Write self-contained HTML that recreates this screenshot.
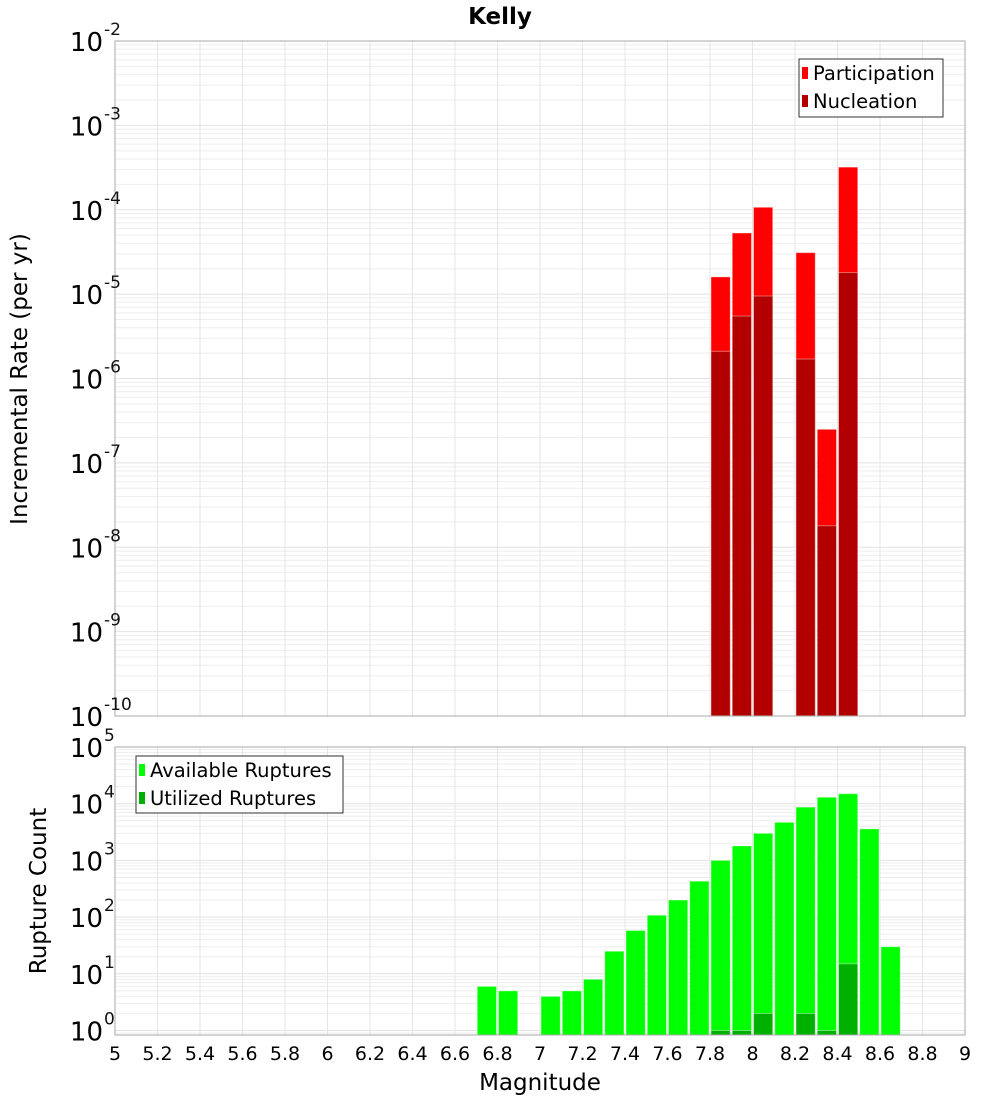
<!DOCTYPE html>
<html><head><meta charset="utf-8"><style>
body{margin:0;background:#fff;font-family:"Liberation Sans","DejaVu Sans",sans-serif}
svg text{font-family:"DejaVu Sans","Liberation Sans",sans-serif}
</style></head><body>
<svg id="c" width="1000" height="1100" xmlns="http://www.w3.org/2000/svg">
<text x="500" y="24" text-anchor="middle" font-size="23" font-weight="bold">Kelly</text>
</svg>
<script>
const binCenters=[7.85,7.95,8.05,8.25,8.35,8.45];
const participation=[1.6e-5,5.3e-5,1.07e-4,3.1e-5,2.5e-7,3.2e-4];
const nucleation=[2.1e-6,5.5e-6,9.5e-6,1.7e-6,1.8e-8,1.8e-5];
const countCenters=[6.75,6.85,7.05,7.15,7.25,7.35,7.45,7.55,7.65,7.75,7.85,7.95,8.05,8.15,8.25,8.35,8.45,8.55,8.65];
const available=[6,5,4,5,8,25,58,108,200,430,1000,1800,3000,4700,8700,13000,15000,3600,30];
const utilCenters=[7.85,7.95,8.05,8.25,8.35,8.45];
const utilized=[1,1,2,2,1,15];
const xTicks=[5,5.2,5.4,5.6,5.8,6,6.2,6.4,6.6,6.8,7,7.2,7.4,7.6,7.8,8,8.2,8.4,8.6,8.8,9];

const NS='http://www.w3.org/2000/svg';
const svg=document.getElementById('c');
function mk(tag,attrs,parent){const e=document.createElementNS(NS,tag);for(const k in attrs)e.setAttribute(k,attrs[k]);(parent||svg).appendChild(e);return e;}
const X0=115,X1=965;
const xs=m=>X0+(m-5)/4*(X1-X0);
const bw=(X1-X0)/40;

function panel(top,bot,decTop,decBot,yAt){
  for(let d=Math.floor(decBot)-1;d<=decTop;d++){
    for(let k=1;k<10;k++){
      const v=d+Math.log10(k);
      if(v<decBot||v>decTop)continue;
      const y=yAt(v);
      const l=mk('line',{x1:X0,x2:X1,y1:y,y2:y,stroke:k==1?'#e2e2e2':'#eeeeee','stroke-width':1});
      
      
    }
  }
  xTicks.forEach(t=>{
    const x=xs(t);
    const l=mk('line',{x1:x,x2:x,y1:top,y2:bot,stroke:'#e6e6e6','stroke-width':1});
    
    
  });
}
function frame(top,bot){
  const r=mk('rect',{x:X0,y:top,width:X1-X0,height:bot-top,fill:'none',stroke:'#aaaaaa','stroke-width':1});
  
  
}
function bar(c,v,yAt,bot,fill,name){
  const x=xs(c-0.05)+1, y=yAt(Math.log10(v));
  const r=mk('rect',{x:x,y:y,width:bw-2,height:bot-y,fill:fill,stroke:'#ffffff','stroke-opacity':0.4,'stroke-width':1});
  
  
}
function ylabel(yv,exp,name){
  const t=mk('text',{x:103,y:yv+10,'text-anchor':'end','font-size':26});
  t.textContent='10';
  
  
  const s=mk('text',{x:104,y:yv-6,'font-size':17,fill:'#111'});
  s.textContent=exp;
  
  
}

const T0=41,T1=716;
const yTop=v=>T0+(-2-v)*(T1-T0)/8;
panel(T0,T1,-2,-10,yTop);
binCenters.forEach((c,i)=>bar(c,participation[i],yTop,T1,'#ff0000','participation-bar'));
binCenters.forEach((c,i)=>bar(c,nucleation[i],yTop,T1,'#b20000','nucleation-bar'));
frame(T0,T1);
for(let d=-2;d>=-10;d--)ylabel(yTop(d),String(d),'y-tick-label');

const B0=747,B1=1035;
const pxDec=(1030.5-747)/5;
const yBot=v=>747+(5-v)*pxDec;
const botMin=5-(B1-B0)/pxDec;
panel(B0,B1,5,botMin,yBot);
countCenters.forEach((c,i)=>bar(c,available[i],yBot,B1,'#00ff00','available-bar'));
utilCenters.forEach((c,i)=>bar(c,utilized[i],yBot,B1,'#00b000','utilized-bar'));
frame(B0,B1);
for(let d=5;d>=0;d--)ylabel(yBot(d),String(d),'y-tick-label-bottom');

xTicks.forEach(t=>{
  const tx=mk('text',{x:xs(t),y:1060,'text-anchor':'middle','font-size':19});
  tx.textContent=String(t);
  
  
});
const xt=mk('text',{x:540,y:1090,'text-anchor':'middle','font-size':23});
xt.textContent='Magnitude';



const yt1=mk('text',{x:0,y:0,'text-anchor':'middle','font-size':23,transform:'translate(27,379) rotate(-90)'});
yt1.textContent='Incremental Rate (per yr)';


const yt2=mk('text',{x:0,y:0,'text-anchor':'middle','font-size':23,transform:'translate(46,891) rotate(-90)'});
yt2.textContent='Rupture Count';



function legend(x,y,w,h,items,name){
  const g=mk('g',{});
  
  
  mk('rect',{x:x,y:y,width:w,height:h,fill:'#fff',stroke:'#333','stroke-width':1},g);
  items.forEach((it,i)=>{
    const cy=y+14+i*28;
    const sw=mk('rect',{x:x+3,y:cy-6,width:6,height:12,fill:it[1]},g);
    
    
    const t=mk('text',{x:x+14,y:cy+7,'font-size':19.5},g);
    t.textContent=it[0];
    
    
  });
}
legend(799,59,144,58,[['Participation','#ff0000'],['Nucleation','#b20000']],'legend-top');
legend(136,756,207,57,[['Available Ruptures','#00ff00'],['Utilized Ruptures','#00b000']],'legend-bottom');
</script>
</body></html>
